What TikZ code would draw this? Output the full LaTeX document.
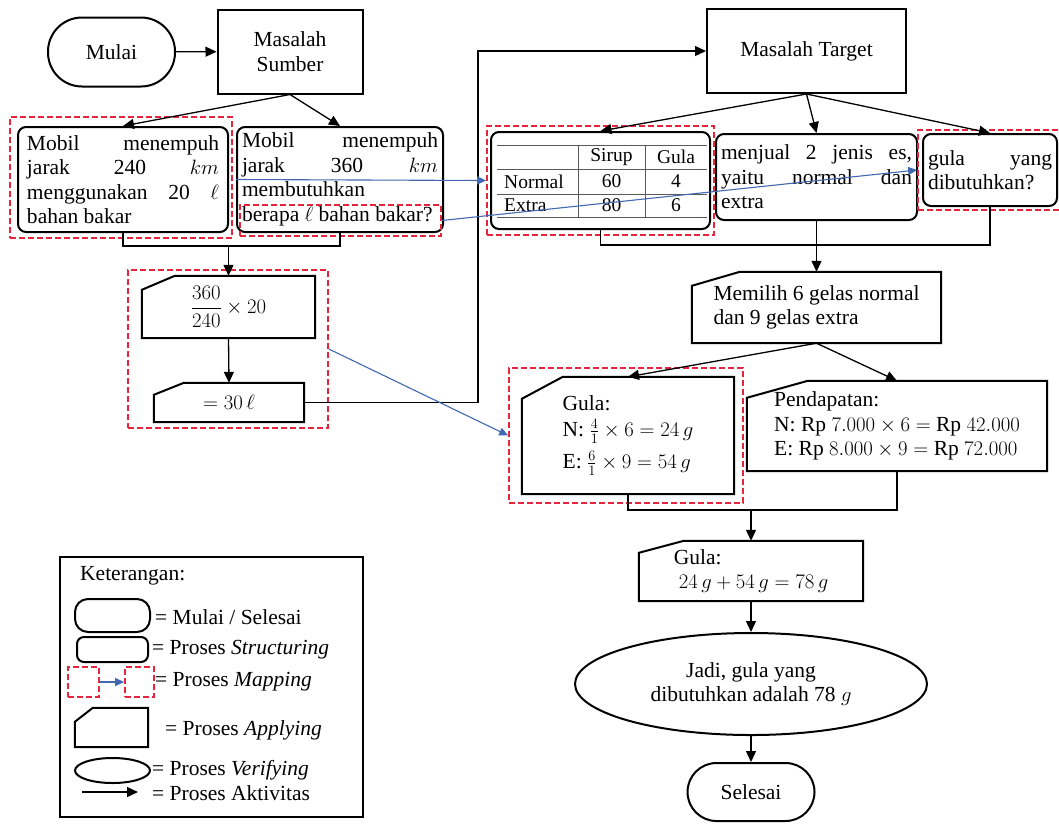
\documentclass[tikz,border=0pt]{standalone}
\usepackage{amsmath}
\usepackage{fontspec}
\setmainfont{Liberation Serif}
\usetikzlibrary{arrows.meta,shapes.geometric,calc}
\definecolor{mapred}{RGB}{232,36,60}
\definecolor{mapblue}{RGB}{66,104,178}

\newcommand{\applyedge}[3]{%
  \draw[line width=2pt] ($(#1.north west)+(0,#3)$) -- ($(#1.north west)+(#2,0)$)
    -- (#1.north east) -- (#1.south east) -- (#1.south west) -- cycle;}

\begin{document}
\begin{tikzpicture}[x=1pt,y=-1pt,
          font=\fontsize{21.5pt}{24.5pt}\selectfont,
          every node/.style={inner sep=0pt},
          startstop/.style={draw,line width=2pt},
          plainbox/.style={draw,line width=2pt,align=center},
          structbox/.style={draw,line width=2pt,rounded corners=8pt},
          applybox/.style={align=left},
          verifybox/.style={draw,ellipse,line width=2pt,align=center},
          mapbox/.style={draw=mapred,line width=1.7pt,dash pattern=on 6pt off 3pt},
          arrowline/.style={line width=1.3pt,-{Triangle[length=11pt,width=10pt]}},
          joinline/.style={line width=1.3pt},
          maparrow/.style={mapblue,line width=1.1pt,-{Triangle[length=9pt,width=8pt]}},
          tabline/.style={line width=1pt,black!65},
          tabtext/.style={font=\fontsize{19.5pt}{22pt}\selectfont}]
          \useasboundingbox[fill=white] (0,0) rectangle (1059,823);

          % masalah sumber
          \node[startstop,rounded corners=34pt,minimum width=127pt,minimum height=69pt] (mulai) at (111.5,52) {Mulai};
          \node[plainbox,minimum width=145pt,minimum height=84pt] (sumber) at (290,51.5) {Masalah\\Sumber};
          \node[structbox,text width=192pt,align=justify,minimum width=210pt,minimum height=105pt] (srcA) at (123,179.5)
               {Mobil\hfill menempuh\\ jarak\hfill 240\hfill $km$\\ menggunakan\hfill 20\hfill $\ell$\\ bahan bakar};
          \node[structbox,text width=196pt,align=justify,minimum width=206pt,minimum height=105pt] (srcB) at (340,179.5)
               {Mobil\hfill menempuh\\ jarak\hfill 360\hfill $km$\\ membutuhkan\\ berapa $\ell$ bahan bakar?};
          \node[mapbox,minimum width=222pt,minimum height=121pt] (mapA) at (121,177.5) {};
          \node[mapbox,minimum width=201pt,minimum height=31pt] (mapB) at (340.5,220.5) {};
          \draw[arrowline] (mulai) -- (sumber);
          \draw[arrowline] (sumber.south) -- (srcA.north);
          \draw[arrowline] (sumber.south) -- (srcB.north);

          \node[applybox,align=center,minimum width=173pt,minimum height=62pt] (hitung) at (228.5,307) {$\dfrac{360}{240}\times 20$};
          \applyedge{hitung}{33}{14}
          \node[applybox,minimum width=150pt,minimum height=39pt] (hasil) at (229,402.5) {$=30\,\ell$};
          \applyedge{hasil}{30}{12}
          \node[mapbox,minimum width=200pt,minimum height=158pt] (mapC) at (228,349) {};
          \coordinate (joinS) at (228.5,246);
          \draw[joinline] (srcA.south) |- (joinS) -| (srcB.south);
          \draw[arrowline] (joinS) -- (hitung.north);
          \draw[arrowline] (hitung.south) -- (hasil.north);

          % masalah target
          \node[plainbox,minimum width=199pt,minimum height=84pt] (target) at (806.5,51) {Masalah Target};
          \coordinate (bendT) at (478,51);
          \draw[arrowline] (hasil.east) -| (bendT) -- (target.west);

          \node[structbox,minimum width=219pt,minimum height=97pt] (tabel) at (600.5,180.5) {};
          \draw[tabline] (497,145) -- (707,145);
          \draw[tabline] (497,169) -- (707,169);
          \draw[tabline] (497,194) -- (707,194);
          \draw[tabline] (497,217) -- (707,217);
          \draw[tabline] (578,145) -- (578,217);
          \draw[tabline] (645,145) -- (645,217);
          \node[tabtext] (hSirup) at (611.5,157) {Sirup};
          \node[tabtext] (hGula) at (676,157) {Gula};
          \node[tabtext,anchor=west] (rNormal) at (504,181.5) {Normal};
          \node[tabtext] (nSirup) at (611.5,181.5) {60};
          \node[tabtext] (nGula) at (676,181.5) {4};
          \node[tabtext,anchor=west] (rExtra) at (504,205.5) {Extra};
          \node[tabtext] (eSirup) at (611.5,205.5) {80};
          \node[tabtext] (eGula) at (676,205.5) {6};

          \node[structbox,text width=191pt,align=justify,minimum width=201pt,minimum height=86pt] (jual) at (816.5,177)
               {menjual\hfill 2\hfill jenis\hfill es,\\ yaitu\hfill normal\hfill dan\\ extra};
          \node[structbox,text width=124pt,align=justify,minimum width=134pt,minimum height=72pt] (tanya) at (990,170)
               {gula\hfill yang\\ dibutuhkan?};
          \node[mapbox,minimum width=227pt,minimum height=109pt] (mapD) at (600.5,180.5) {};
          \node[mapbox,minimum width=147pt,minimum height=80pt] (mapE) at (991.5,170) {};
          \draw[arrowline] (target.south) -- (tabel.north);
          \draw[arrowline] (target.south) -- (jual.north);
          \draw[arrowline] (target.south) -- (tanya.north);

          \node[applybox,minimum width=249pt,minimum height=71pt] (memilih) at (816.5,307.5) {Memilih 6 gelas normal\\dan 9 gelas extra};
          \applyedge{memilih}{48}{14}
          \coordinate (joinT) at (816.5,245);
          \draw[joinline] (tabel.south) |- (joinT) -| (tanya.south);
          \draw[arrowline] (jual.south) -- (memilih.north);

          \node[applybox,minimum width=212pt,minimum height=117pt] (gula) at (628,435.5)
               {Gula:\\[2pt] N: $\frac{4}{1}\times 6=24\,g$\\[6pt] E: $\frac{6}{1}\times 9=54\,g$};
          \applyedge{gula}{41}{22}
          \node[mapbox,minimum width=234pt,minimum height=135pt] (mapF) at (626,435.5) {};
          \node[applybox,minimum width=300pt,minimum height=90pt] (pendapatan) at (897,426)
               {Pendapatan:\\ N: Rp $7.000\times 6=$ Rp $42.000$\\ E: Rp $8.000\times 9=$ Rp $72.000$};
          \applyedge{pendapatan}{61}{17}
          \draw[arrowline] (memilih.south) -- (gula.north);
          \draw[arrowline] (memilih.south) -- (pendapatan.north);

          \node[applybox,minimum width=224pt,minimum height=60pt] (jumlah) at (751,571) {Gula:\\ \hspace*{5pt}$24\,g+54\,g=78\,g$};
          \applyedge{jumlah}{45}{12}
          \coordinate (joinG) at (751,510);
          \draw[joinline] (gula.south) |- (joinG) -| (pendapatan.south);
          \draw[arrowline] (joinG) -- (jumlah.north);

          \node[verifybox,minimum width=352pt,minimum height=102pt] (jadi) at (751,684) {Jadi, gula yang\\dibutuhkan adalah 78 $g$};
          \node[startstop,rounded corners=29pt,minimum width=127pt,minimum height=58pt] (selesai) at (751,792) {Selesai};
          \draw[arrowline] (jumlah.south) -- (jadi.north);
          \draw[arrowline] (jadi.south) -- (selesai.north);

          % mapping
          \draw[maparrow] (srcB.west) -- (mapD.west);
          \draw[maparrow] (mapB.east) -- (mapE.west);
          \draw[maparrow] (mapC.east) -- (mapF.west);

          % keterangan
          \node[draw,line width=1.6pt,minimum width=303pt,minimum height=260pt] (legenda) at (211.5,687) {};
          \node[anchor=west] (legTitle) at (80,576) {Keterangan:};
          \node[startstop,rounded corners=13pt,minimum width=75pt,minimum height=33pt] (legStart) at (112.5,615.5) {};
          \node[anchor=west] (legStartT) at (155,617) {= Mulai / Selesai};
          \node[structbox,rounded corners=7pt,minimum width=71pt,minimum height=25pt] (legStruct) at (112.5,649.5) {};
          \node[anchor=west] (legStructT) at (152,650) {= Proses \textit{Structuring}};
          \node[mapbox,minimum width=31pt,minimum height=30pt] (legMapA) at (83.5,682) {};
          \node[mapbox,minimum width=29pt,minimum height=30pt] (legMapB) at (139.5,682) {};
          \draw[maparrow] (legMapA) -- (legMapB);
          \node[anchor=west] (legMapT) at (155,682) {= Proses \textit{Mapping}};
          \node[applybox,minimum width=73pt,minimum height=39pt] (legApply) at (111.5,727.5) {};
          \applyedge{legApply}{18}{14}
          \node[anchor=west] (legApplyT) at (165,730) {= Proses \textit{Applying}};
          \node[verifybox,minimum width=75pt,minimum height=25pt] (legVerify) at (112.5,770.5) {};
          \node[anchor=west] (legVerifyT) at (152,770) {= Proses \textit{Verifying}};
          \coordinate (legArrA) at (82,792);
          \coordinate (legArrB) at (138,792);
          \draw[arrowline] (legArrA) -- (legArrB);
          \node[anchor=west] (legArrT) at (152,793) {= Proses Aktivitas};
\end{tikzpicture}
\end{document}
